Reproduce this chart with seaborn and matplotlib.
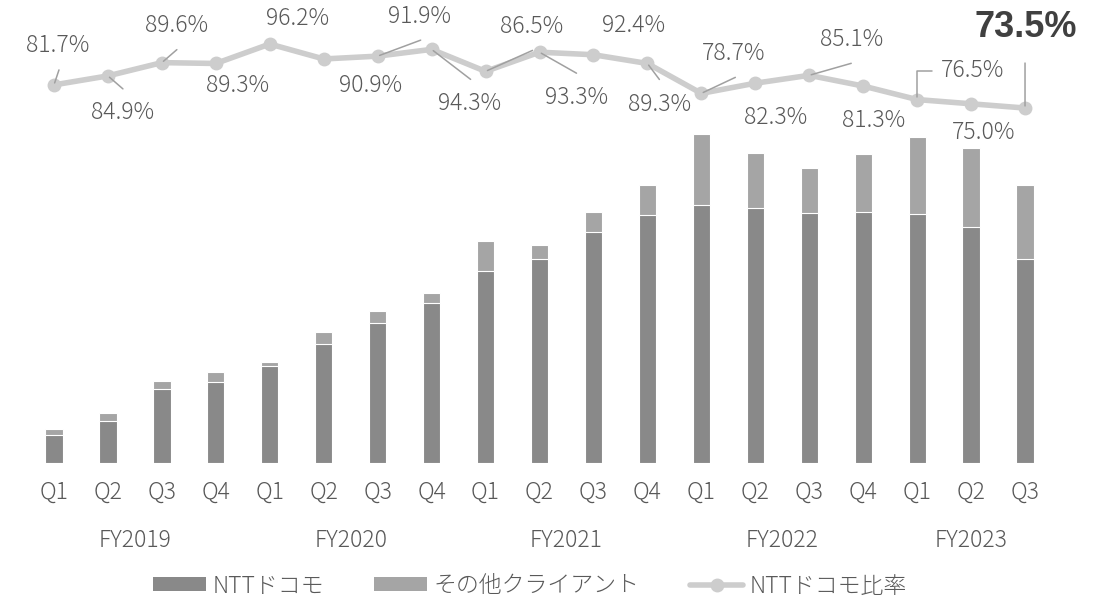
import matplotlib
matplotlib.use("Agg")
import matplotlib.pyplot as plt
from matplotlib.patches import Patch
from matplotlib.lines import Line2D
import numpy as np
import pandas as pd
import seaborn as sns

# ---------------- data ----------------
fiscal_years = ["FY2019"] * 4 + ["FY2020"] * 4 + ["FY2021"] * 4 + ["FY2022"] * 4 + ["FY2023"] * 3
quarters = ["Q1", "Q2", "Q3", "Q4"] * 4 + ["Q1", "Q2", "Q3"]
docomo = [27.7, 42.0, 73.4, 81.0, 97.0, 118.4, 139.4, 159.4, 191.7, 203.4,
          231.0, 247.7, 258.0, 255.0, 250.0, 250.5, 249.0, 236.0, 203.4]
others = [6.0, 7.4, 8.6, 10.0, 3.4, 12.0, 12.3, 10.0, 30.0, 14.3,
          19.4, 29.7, 70.7, 54.7, 44.4, 57.9, 77.0, 79.0, 74.0]
ratio = [81.7, 84.9, 89.6, 89.3, 96.2, 90.9, 91.9, 94.3, 86.5, 93.3,
         92.4, 89.3, 78.7, 82.3, 85.1, 81.3, 76.5, 75.0, 73.5]
legend_labels = ["NTTドコモ", "その他クライアント", "NTTドコモ比率"]

# ---------------- layout / style ----------------
# label offsets (pixels, relative to each ratio point)
label_offsets = [(4, 39), (15, -37), (15, 37), (22, -22), (28, 26), (47, -27),
                 (42, 40), (38, -54), (46, 45), (37, -45), (40, 29), (12, -41),
                 (32, 40), (20, -34), (42, 36), (10, -34), (55, 29), (13, -29), (1, 81)]
leader_ends = {0: (5, 15), 1: (15, -13), 2: (15, 13), 6: (43, 16), 7: (39, -30),
               8: (47, 21), 9: (37, -21), 11: (12, -16), 12: (34, 16), 14: (42, 12),
               18: (0, 45)}
elbow_leaders = {16: (15, 29)}

DARK = "#898989"
LIGHT = "#a5a5a5"
LINE = "#cdcdcd"
TXT = "#595959"
LEAD = "#a0a0a0"

df = pd.DataFrame({
    "period": [f"{y}-{q}" for y, q in zip(fiscal_years, quarters)],
    "docomo": docomo,
    "total": np.array(docomo) + np.array(others),
    "ratio": ratio,
    "pos": np.arange(len(docomo)),
})

sns.set_style("white")
plt.rcParams["font.family"] = ["Noto Sans CJK JP", "DejaVu Sans"]
plt.rcParams["font.weight"] = "light"

W, H = 1109, 600
fig = plt.figure(figsize=(W / 100, H / 100), dpi=100)
base_px, top_px = 462.7, 20.0
left_px, right_px = 27.0, 1052.0
ax = fig.add_axes([left_px / W, 1 - base_px / H, (right_px - left_px) / W, (base_px - top_px) / H])

sns.barplot(data=df, x="period", y="total", color=LIGHT, saturation=1, width=0.32,
            edgecolor="white", linewidth=0.8, errorbar=None, ax=ax)
sns.barplot(data=df, x="period", y="docomo", color=DARK, saturation=1, width=0.32,
            edgecolor="white", linewidth=0.8, errorbar=None, ax=ax)
ax.set_xlim(-0.5, len(docomo) - 0.5)
ax.set_ylim(0, base_px - top_px)

ax2 = ax.twinx()
sns.lineplot(data=df, x="pos", y="ratio", ax=ax2, color=LINE, lw=4, marker="o",
             markersize=10, markeredgewidth=0, sort=False)
slope = 2.82
inter = 315.3
ax2.set_ylim((inter - base_px) / slope, (inter - top_px) / slope)
ax2.set_xlim(-0.5, len(docomo) - 0.5)

for a in (ax, ax2):
    for s in a.spines.values():
        s.set_visible(False)
    a.set_yticks([])
    a.set_ylabel("")
    a.set_xlabel("")

ax.set_xticks(range(len(quarters)))
ax.set_xticklabels(quarters)
ax.tick_params(axis="x", length=0, pad=12, labelsize=16.5, labelcolor=TXT)

# fiscal year group labels
for fy in dict.fromkeys(fiscal_years):
    idx = [i for i, y in enumerate(fiscal_years) if y == fy]
    ax.annotate(fy, xy=(np.mean(idx), 0), xycoords=("data", "axes fraction"),
                xytext=(0, -78), textcoords="offset pixels", ha="center", va="center",
                fontsize=16.5, color=TXT)

# ratio labels and leader lines
n = len(ratio)
for i, (p, (dx, dy)) in enumerate(zip(ratio, label_offsets)):
    if i == n - 1:
        ax2.annotate(f"{p:.1f}%", xy=(i, p), xytext=(dx, dy), textcoords="offset pixels",
                     ha="center", va="center", fontsize=26, fontweight="bold",
                     color="#404040", family=["Liberation Sans", "DejaVu Sans"])
    else:
        ax2.annotate(f"{p:.1f}%", xy=(i, p), xytext=(dx, dy), textcoords="offset pixels",
                     ha="center", va="center", fontsize=16.5, color=TXT)
    if i in leader_ends:
        ax2.annotate("", xy=(i, p), xytext=leader_ends[i], textcoords="offset pixels",
                     arrowprops=dict(arrowstyle="-", color=LEAD, lw=1.1, shrinkA=0, shrinkB=1.5))
    if i in elbow_leaders:
        ax2.annotate("", xy=(i, p), xytext=elbow_leaders[i], textcoords="offset pixels",
                     arrowprops=dict(arrowstyle="-", color=LEAD, lw=1.1, shrinkA=0, shrinkB=1.5,
                                     connectionstyle="angle,angleA=0,angleB=90,rad=0"))

handles = [Patch(facecolor=DARK, edgecolor="none"),
           Patch(facecolor=LIGHT, edgecolor="none"),
           Line2D([], [], color=LINE, lw=4, marker="o", markersize=10, markeredgewidth=0)]
fig.legend(handles, legend_labels, loc="center", bbox_to_anchor=(530 / W, 1 - 586 / H),
           ncol=3, frameon=False, fontsize=16.5, handlelength=2.3, handleheight=0.55,
           handletextpad=0.3, columnspacing=2.2, labelcolor=TXT, borderpad=0.2)

fig.savefig("out.png", dpi=100)
